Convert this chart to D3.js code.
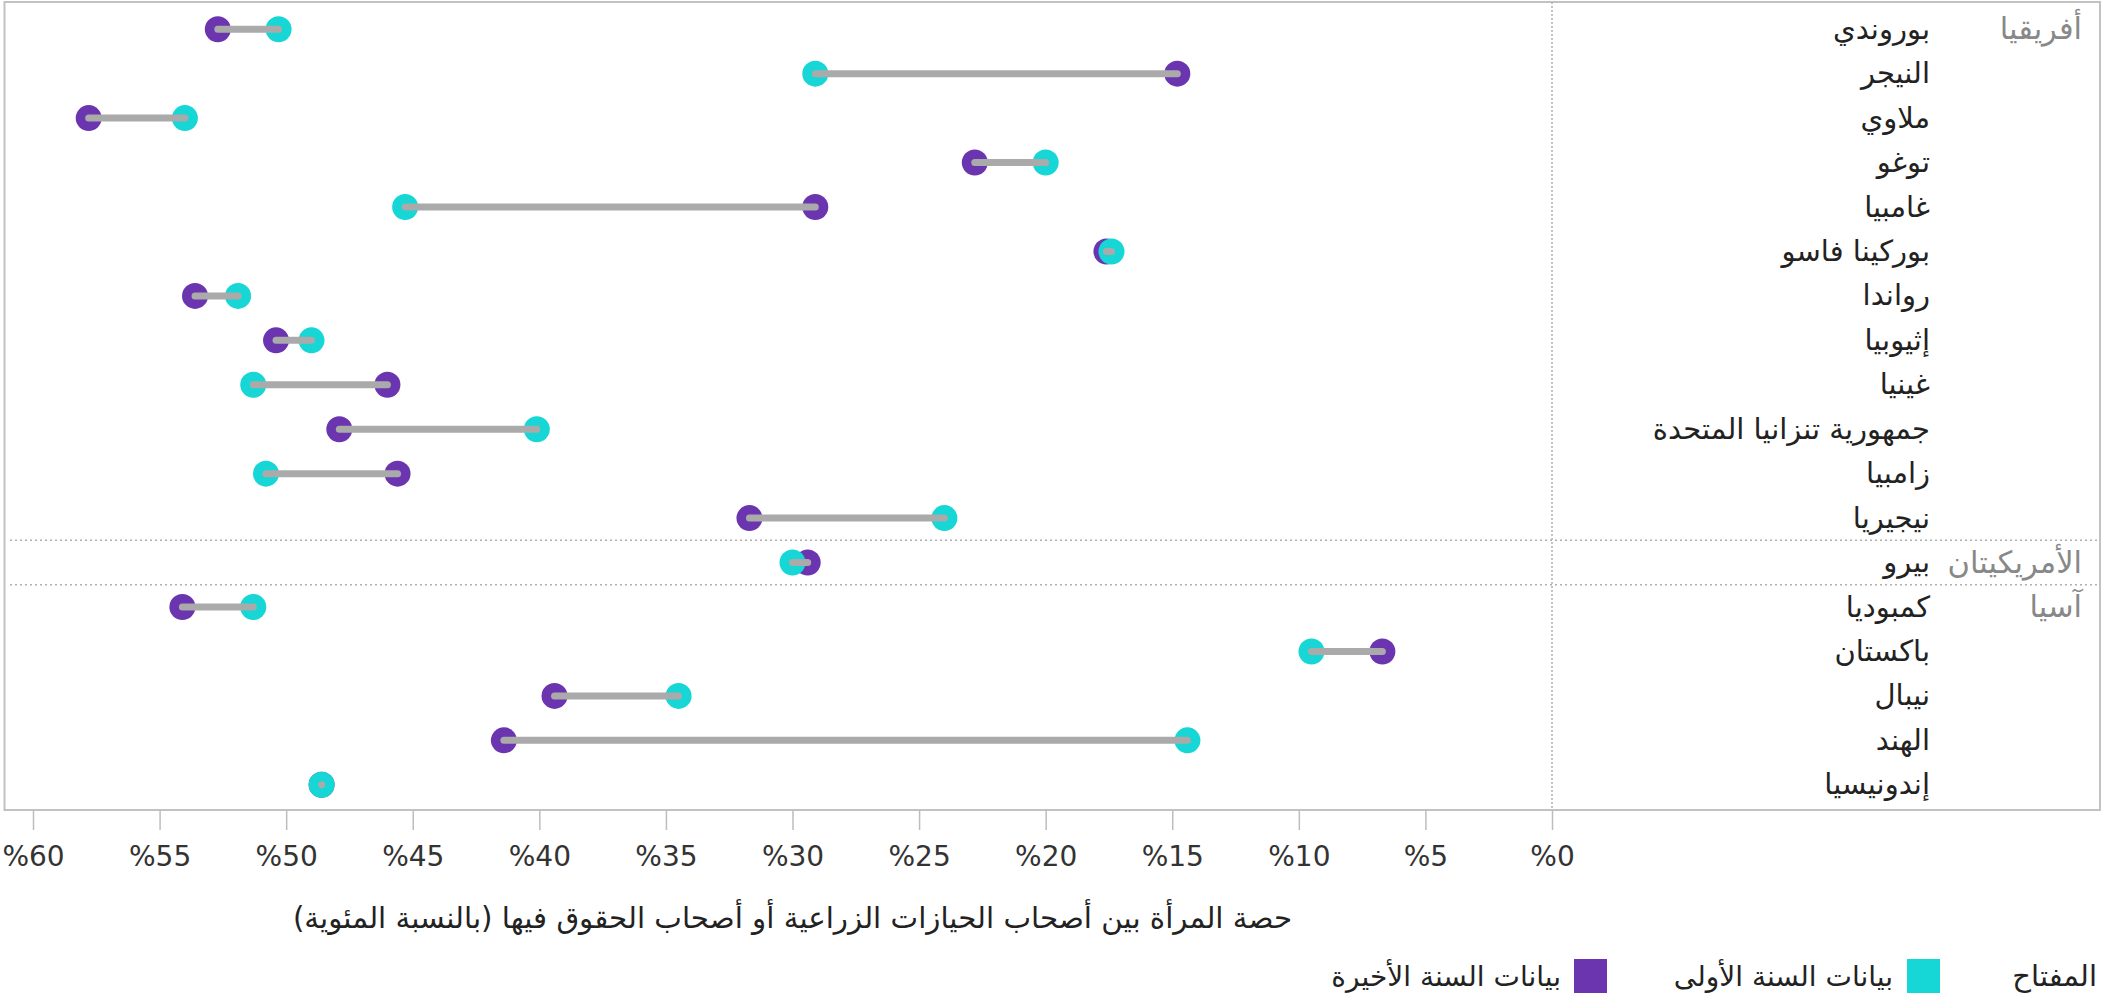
<!DOCTYPE html>
<html>
<head>
<meta charset="utf-8">
<script src="https://cdn.jsdelivr.net/npm/d3@7"></script>
<style>
  html, body { margin: 0; padding: 0; background: #fff; }
  svg { display: block; }
  text { font-family: "DejaVu Sans", "Noto Sans", sans-serif; }
</style>
</head>
<body>
<svg id="chart" width="2104" height="1003"></svg>
<script>
// ---- data ----
const countries = ["بوروندي","النيجر","ملاوي","توغو","غامبيا","بوركينا فاسو","رواندا","إثيوبيا","غينيا","جمهورية تنزانيا المتحدة","زامبيا","نيجيريا","بيرو","كمبوديا","باكستان","نيبال","الهند","إندونيسيا"];
const regionOf = ["أفريقيا","أفريقيا","أفريقيا","أفريقيا","أفريقيا","أفريقيا","أفريقيا","أفريقيا","أفريقيا","أفريقيا","أفريقيا","أفريقيا","الأمريكيتان","آسيا","آسيا","آسيا","آسيا","آسيا"];
const firstYear = [50.3, 29.1, 54.0, 20.0, 45.3, 17.4, 51.9, 49.0, 51.3, 40.1, 50.8, 24.0, 30.0, 51.3, 9.5, 34.5, 14.4, 48.6];
const lastYear  = [52.7, 14.8, 57.8, 22.8, 29.1, 17.6, 53.6, 50.4, 46.0, 47.9, 45.6, 31.7, 29.4, 54.1, 6.7, 39.4, 41.4, 48.6];
const tickValues = [0,5,10,15,20,25,30,35,40,45,50,55,60];
const axisTitle = "حصة المرأة بين أصحاب الحيازات الزراعية أو أصحاب الحقوق فيها (بالنسبة المئوية)\u200F";
const legendTitle = "المفتاح";
const seriesNames = ["بيانات السنة الأولى", "بيانات السنة الأخيرة"];
const colors = { first: "#16d6d6", last: "#6a35af", line: "#aaaaaa" };

// ---- layout ----
const svg = d3.select("#chart");
const frame = { left: 4.5, top: 2, right: 2100, bottom: 810 };
const x = d3.scaleLinear().domain([0, 60]).range([1552, 33]);
const y = d3.scaleBand().domain(countries).range([7, 807]).padding(0);
const cy = c => y(c) + y.bandwidth() / 2;

const rows = countries.map((c, i) => ({ country: c, region: regionOf[i], first: firstYear[i], last: lastYear[i] }));

// frame
svg.append("rect")
  .attr("x", frame.left).attr("y", frame.top)
  .attr("width", frame.right - frame.left).attr("height", frame.bottom - frame.top)
  .attr("fill", "none").attr("stroke", "#c2c2c2").attr("stroke-width", 2);

// zero dotted line
svg.append("line")
  .attr("x1", x(0)).attr("x2", x(0)).attr("y1", frame.top).attr("y2", frame.bottom)
  .attr("stroke", "#b0b0b0").attr("stroke-width", 1.5).attr("stroke-dasharray", "2,2");

// region separators
const separators = [];
rows.forEach((r, i) => { if (i > 0 && r.region !== rows[i - 1].region) separators.push(i); });
svg.selectAll("line.sep").data(separators).join("line")
  .attr("class", "sep")
  .attr("x1", 10).attr("x2", frame.right)
  .attr("y1", i => y(countries[i])).attr("y2", i => y(countries[i]))
  .attr("stroke", "#b0b0b0").attr("stroke-width", 1.5).attr("stroke-dasharray", "2,3");

// axis
const axis = d3.axisBottom(x).tickValues(tickValues).tickSize(20).tickPadding(16)
  .tickFormat(d => "%" + d);
const gx = svg.append("g").attr("transform", `translate(0,${frame.bottom})`).call(axis);
gx.select(".domain").remove();
gx.selectAll(".tick line").attr("stroke", "#bdbdbd").attr("stroke-width", 1.5);
gx.selectAll(".tick text").attr("fill", "#333").style("font-size", "28px")
  .style("font-family", '"DejaVu Sans", sans-serif');

// axis title
svg.append("text")
  .attr("x", (x(0) + x(60)) / 2).attr("y", 918).attr("dy", "0.35em")
  .attr("text-anchor", "middle").attr("fill", "#222").style("font-size", "29.3px")
  .text(axisTitle);

// country labels
svg.selectAll("text.country").data(rows).join("text")
  .attr("class", "country")
  .attr("x", 1930).attr("y", d => cy(d.country)).attr("dy", "0.33em")
  .attr("text-anchor", "end").attr("fill", "#222").style("font-size", "29px")
  .text(d => d.country);

// region labels
const regionStarts = rows.filter((r, i) => i === 0 || r.region !== rows[i - 1].region);
svg.selectAll("text.region").data(regionStarts).join("text")
  .attr("class", "region")
  .attr("x", 2082).attr("y", d => cy(d.country)).attr("dy", "0.33em")
  .attr("text-anchor", "end").attr("fill", "#888").style("font-size", "30.5px")
  .text(d => d.region);

// dots: last (purple) under first (cyan), connector on top
const g = svg.append("g");
g.selectAll("circle.last").data(rows).join("circle")
  .attr("class", "last")
  .attr("cx", d => x(d.last)).attr("cy", d => cy(d.country)).attr("r", 13)
  .attr("fill", colors.last);
g.selectAll("circle.first").data(rows).join("circle")
  .attr("class", "first")
  .attr("cx", d => x(d.first)).attr("cy", d => cy(d.country)).attr("r", 13)
  .attr("fill", colors.first);
g.selectAll("line.conn").data(rows).join("line")
  .attr("class", "conn")
  .attr("x1", d => x(d.first)).attr("x2", d => x(d.last))
  .attr("y1", d => cy(d.country)).attr("y2", d => cy(d.country))
  .attr("stroke", colors.line).attr("stroke-width", 7).attr("stroke-linecap", "round");

// legend
const ly = 976;
svg.append("text")
  .attr("x", 2097).attr("y", ly).attr("dy", "0.35em")
  .attr("text-anchor", "end").attr("fill", "#222").style("font-size", "29px")
  .text(legendTitle);
const legendItems = [
  { name: seriesNames[0], color: colors.first, sx: 1907, tx: 1893 },
  { name: seriesNames[1], color: colors.last, sx: 1574, tx: 1561 }
];
const lg = svg.selectAll("g.leg").data(legendItems).join("g").attr("class", "leg");
lg.append("rect")
  .attr("x", d => d.sx).attr("y", ly - 17).attr("width", 33).attr("height", 34)
  .attr("fill", d => d.color);
lg.append("text")
  .attr("x", d => d.tx).attr("y", ly).attr("dy", "0.35em")
  .attr("text-anchor", "end").attr("fill", "#222").style("font-size", "28px")
  .text(d => d.name);
</script>
</body>
</html>
